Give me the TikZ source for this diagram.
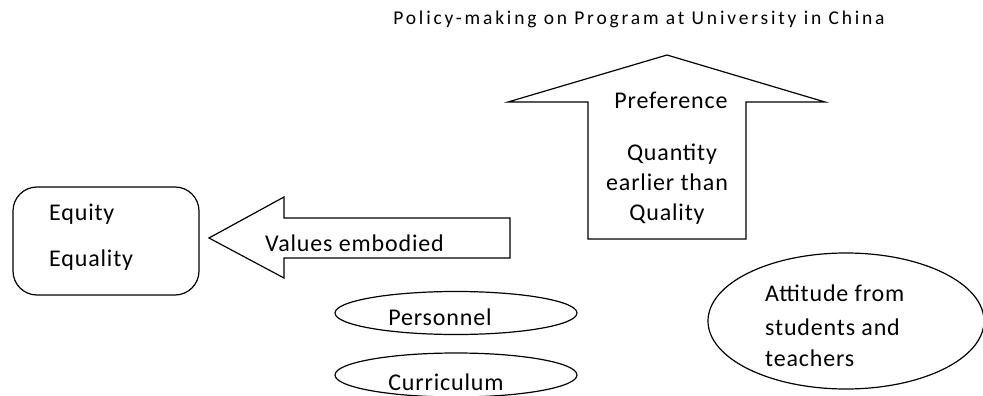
\documentclass[tikz,border=0pt]{standalone}
\usepackage{fontspec}
\setmainfont{Carlito}
\newfontfamily\bodyfont[LetterSpace=3.5]{Carlito}
\newfontfamily\titlefont[LetterSpace=14.5]{Carlito}
\begin{document}
\begin{tikzpicture}[x=1pt,y=-1pt,
  shapeline/.style={draw=black,line width=1.2pt,line join=miter},
  txt/.style={inner sep=0pt,font=\bodyfont\fontsize{24}{30}\selectfont},
  ttl/.style={inner sep=0pt,font=\titlefont\fontsize{19.5}{24}\selectfont}]
\useasboundingbox (0,0) rectangle (983,396);
\fill[white] (0,0) rectangle (983,396);
% title
\node[ttl,anchor=base] (title) at (639,25) {Policy-making on Program at University in China};
% up arrow
\draw[shapeline] (667,55) coordinate (uptip) -- (825,102) -- (746,102) -- (746,239) -- (588,239) -- (588,102) -- (508,102) -- cycle;
\node[txt,anchor=base] (pref) at (671,109) {Preference};
\node[txt,anchor=base] (quan) at (672,160) {Quantity};
\node[txt,anchor=base] (earl) at (667,190) {earlier than};
\node[txt,anchor=base] (qual) at (667,220) {Quality};
% equity box
\draw[shapeline,rounded corners=24pt] (13,187) rectangle (199,295);
\node[txt,anchor=base west] (equity) at (49,220) {Equity};
\node[txt,anchor=base west] (equality) at (49,266) {Equality};
% left arrow
\draw[shapeline] (209,238) coordinate (lefttip) -- (284,197) -- (284,218) -- (510,218) -- (510,258) -- (284,258) -- (284,278) -- cycle;
\node[txt,anchor=base west] (values) at (265,251) {Values embodied};
% ellipses
\draw[shapeline] (456,313) ellipse [x radius=121,y radius=21.5];
\node[txt,anchor=base] (pers) at (440,325) {Personnel};
\draw[shapeline] (456,375) ellipse [x radius=121,y radius=22];
\node[txt,anchor=base] (curr) at (446,390) {Curriculum};
\draw[shapeline] (846,321) ellipse [x radius=138,y radius=68];
\node[txt,anchor=base west] (att1) at (765,301) {Attitude from};
\node[txt,anchor=base west] (att2) at (765,335) {students and};
\node[txt,anchor=base west] (att3) at (765,366) {teachers};
\end{tikzpicture}
\end{document}
